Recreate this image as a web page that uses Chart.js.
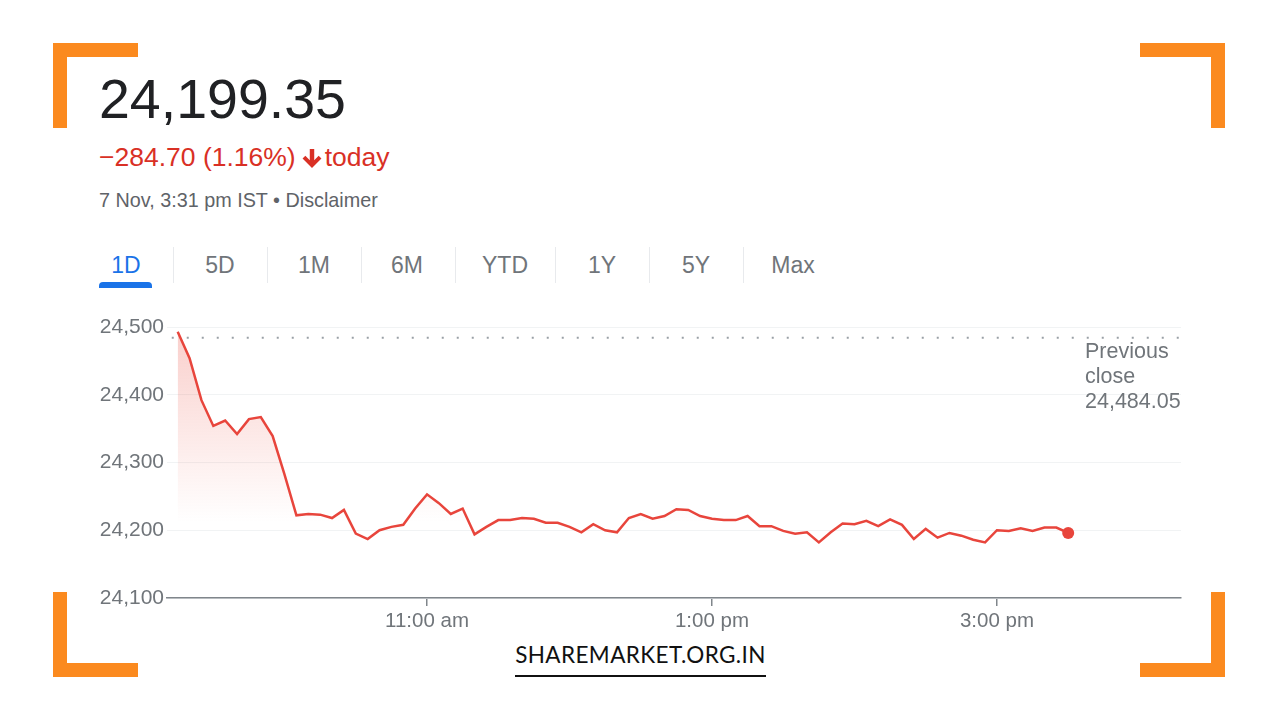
<!DOCTYPE html>
<html>
<head>
<meta charset="utf-8">
<script src="https://cdn.jsdelivr.net/npm/chart.js@4.4.1/dist/chart.umd.min.js"></script>
<style>
  html, body { margin: 0; padding: 0; background: #fff; }
  body { width: 1280px; height: 720px; position: relative; overflow: hidden; font-family: "Liberation Sans", Arial, sans-serif; }
  .corner { position: absolute; width: 85px; height: 85px; border-color: #fb8a1f; border-style: solid; border-width: 0; box-sizing: border-box; }
  .tl { left: 53px; top: 43px; border-top-width: 14px; border-left-width: 14px; }
  .tr { left: 1140px; top: 43px; border-top-width: 14px; border-right-width: 14px; }
  .bl { left: 53px; top: 592px; border-bottom-width: 14px; border-left-width: 14px; }
  .br { left: 1140px; top: 592px; border-bottom-width: 14px; border-right-width: 14px; }
  #price { position: absolute; left: 99px; top: 66px; font-size: 55.5px; color: #202124; line-height: 66px; }
  #change { position: absolute; left: 99px; top: 141px; font-size: 26.5px; color: #d93025; line-height: 32px; white-space: nowrap; }
  #change svg { vertical-align: -2px; margin: 0 3px 0 6px; }
  #stamp { position: absolute; left: 99px; top: 189px; font-size: 19.8px; color: #5f6368; line-height: 22px; }
  .tab { position: absolute; top: 250px; width: 100px; margin-left: -50px; text-align: center; font-size: 23px; color: #70757a; line-height: 30px; }
  .tab.on { color: #1a73e8; }
  .sep { position: absolute; top: 247px; width: 1px; height: 36px; background: #e8eaed; }
  #underline { position: absolute; left: 99px; top: 282px; width: 53px; height: 6px; background: #1a73e8; border-radius: 4px 4px 0 0; }
  #chart { position: absolute; left: 90px; top: 300px; }
  #brand { position: absolute; left: 515px; top: 640px; width: 251px; text-align: center; font-family: Lato, "Open Sans", sans-serif; font-size: 22.5px; color: #111; letter-spacing: 0.4px; line-height: 30px; border-bottom: 2px solid #111; padding-bottom: 5px; }
</style>
</head>
<body>
<div class="corner tl"></div>
<div class="corner tr"></div>
<div class="corner bl"></div>
<div class="corner br"></div>

<div id="price">24,199.35</div>
<div id="change">−284.70 (1.16%)<svg width="20" height="20" viewBox="0 0 18 18"><path d="M7 1h4v10l4-4 2.5 2.5L9 18 0.5 9.5 3 7l4 4z" fill="#d93025"/></svg>today</div>
<div id="stamp">7 Nov, 3:31 pm IST • Disclaimer</div>

<div id="underline"></div>

<canvas id="chart" width="1110" height="340"></canvas>

<div id="brand">SHAREMARKET.ORG.IN</div>

<script>
// Períodos do seletor
const periodos = ['1D', '5D', '1M', '6M', 'YTD', '1Y', '5Y', 'Max'];

// Horários (intervalos de 5 min) e fechamento de cada intervalo
const horarios = [
  '09:15', '09:20', '09:25', '09:30', '09:35', '09:40', '09:45', '09:50', '09:55', '10:00',
  '10:05', '10:10', '10:15', '10:20', '10:25', '10:30', '10:35', '10:40', '10:45', '10:50',
  '10:55', '11:00', '11:05', '11:10', '11:15', '11:20', '11:25', '11:30', '11:35', '11:40',
  '11:45', '11:50', '11:55', '12:00', '12:05', '12:10', '12:15', '12:20', '12:25', '12:30',
  '12:35', '12:40', '12:45', '12:50', '12:55', '13:00', '13:05', '13:10', '13:15', '13:20',
  '13:25', '13:30', '13:35', '13:40', '13:45', '13:50', '13:55', '14:00', '14:05', '14:10',
  '14:15', '14:20', '14:25', '14:30', '14:35', '14:40', '14:45', '14:50', '14:55', '15:00',
  '15:05', '15:10', '15:15', '15:20', '15:25', '15:30'
];
const valores = [
  24493, 24454, 24392, 24354, 24362, 24342, 24364, 24367, 24339, 24282,
  24222, 24224, 24223, 24218, 24230, 24195, 24187, 24200, 24205, 24208,
  24232, 24253, 24240, 24224, 24232, 24194, 24205, 24215, 24215, 24218,
  24217, 24211, 24211, 24205, 24197, 24209, 24200, 24197, 24218, 24224,
  24217, 24221, 24231, 24230, 24221, 24217, 24215, 24215, 24221, 24206,
  24206, 24199, 24195, 24197, 24182, 24197, 24210, 24209, 24214, 24206,
  24216, 24208, 24187, 24202, 24189, 24196, 24192, 24186, 24182, 24200,
  24199, 24203, 24199, 24204, 24204, 24196
];
const fechamentoAnterior = 24484.05;

// Eixos
const yTicks = [24100, 24200, 24300, 24400, 24500];
const xTicks = ['11:00', '13:00', '15:00'];
const xInicio = '09:10';
const xFim = '16:17';

// Layout das abas (centros e separadores, em px)
const abaCentros = [126, 220, 314, 407, 505, 602, 696, 793];
const abaSeparadores = [173, 267, 361, 455, 555, 649, 743];

function paraMinutos(h) {
  const [hh, mm] = h.split(':').map(Number);
  return hh * 60 + mm;
}

function formatarHora(min) {
  const h = Math.floor(min / 60);
  const m = min % 60;
  const sufixo = h >= 12 ? 'pm' : 'am';
  const h12 = h > 12 ? h - 12 : h;
  return h12 + ':' + String(m).padStart(2, '0') + ' ' + sufixo;
}

// Abas
periodos.forEach((p, i) => {
  const d = document.createElement('div');
  d.className = 'tab' + (i === 0 ? ' on' : '');
  d.style.left = abaCentros[i] + 'px';
  d.textContent = p;
  document.body.appendChild(d);
});
abaSeparadores.forEach(x => {
  const s = document.createElement('div');
  s.className = 'sep';
  s.style.left = x + 'px';
  document.body.appendChild(s);
});

const pontos = horarios.map((h, i) => ({ x: paraMinutos(h), y: valores[i] }));
const xMin = paraMinutos(xInicio) + 0.5;
const xMax = paraMinutos(xFim) + 0.5;

const vermelho = '#e8453c';
const fonte = '"Liberation Sans", Arial, sans-serif';

/* Rótulo "Previous close" à direita */
const rotuloFechamento = {
  id: 'rotuloFechamento',
  afterDraw(chart) {
    const { ctx, chartArea, scales } = chart;
    const y = scales.y.getPixelForValue(fechamentoAnterior);
    ctx.save();
    ctx.font = '21.5px ' + fonte;
    ctx.fillStyle = '#70757a';
    ctx.textBaseline = 'middle';
    const x = chartArea.right - 96;
    ctx.fillText('Previous', x, y + 14);
    ctx.fillText('close', x, y + 39);
    ctx.fillText(fechamentoAnterior.toLocaleString('en-US', { minimumFractionDigits: 2 }), x, y + 64);
    ctx.restore();
  }
};

new Chart(document.getElementById('chart'), {
  type: 'line',
  data: {
    datasets: [
      {
        data: pontos,
        borderColor: vermelho,
        borderWidth: 2.5,
        tension: 0,
        pointRadius: ctx => ctx.dataIndex === pontos.length - 1 ? 6 : 0,
        pointBackgroundColor: vermelho,
        pointBorderWidth: 0,
        fill: 'start',
        backgroundColor: ctx => {
          const area = ctx.chart.chartArea;
          if (!area) return 'rgba(234,67,53,0)';
          const g = ctx.chart.ctx.createLinearGradient(0, area.top, 0, area.top + 195);
          g.addColorStop(0, 'rgba(234,67,53,0.26)');
          g.addColorStop(1, 'rgba(234,67,53,0)');
          return g;
        },
        order: 1
      },
      {
        data: [{ x: xMin + 2, y: fechamentoAnterior }, { x: xMax, y: fechamentoAnterior }],
        borderColor: '#9aa0a6',
        borderWidth: 2,
        borderDash: [2, 13],
        pointRadius: 0,
        fill: false,
        order: 2
      }
    ]
  },
  options: {
    responsive: false,
    animation: false,
    devicePixelRatio: 1,
    layout: { padding: { top: 27, right: 19, left: 0, bottom: 0 } },
    plugins: { legend: { display: false }, tooltip: { enabled: false } },
    scales: {
      x: {
        type: 'linear',
        min: xMin,
        max: xMax,
        afterBuildTicks: axis => { axis.ticks = xTicks.map(t => ({ value: paraMinutos(t) })); },
        afterFit: axis => { axis.height = 42; },
        grid: { drawOnChartArea: false, drawTicks: true, tickLength: 8, color: '#80868b', lineWidth: 1.5 },
        border: { display: true, color: '#80868b', width: 1.5 },
        ticks: {
          padding: 3,
          maxRotation: 0,
          color: '#70757a',
          font: { family: fonte, size: 20.5 },
          callback: v => formatarHora(v)
        }
      },
      y: {
        min: yTicks[0],
        max: yTicks[yTicks.length - 1],
        afterBuildTicks: axis => { axis.ticks = yTicks.map(v => ({ value: v })); },
        afterFit: axis => { axis.width = 77; },
        grid: { color: '#f1f3f4', lineWidth: 1, drawTicks: false },
        border: { display: false },
        ticks: {
          padding: 3,
          color: '#70757a',
          font: { family: fonte, size: 21 },
          callback: v => v.toLocaleString('en-US')
        }
      }
    }
  },
  plugins: [rotuloFechamento]
});
</script>
</body>
</html>
